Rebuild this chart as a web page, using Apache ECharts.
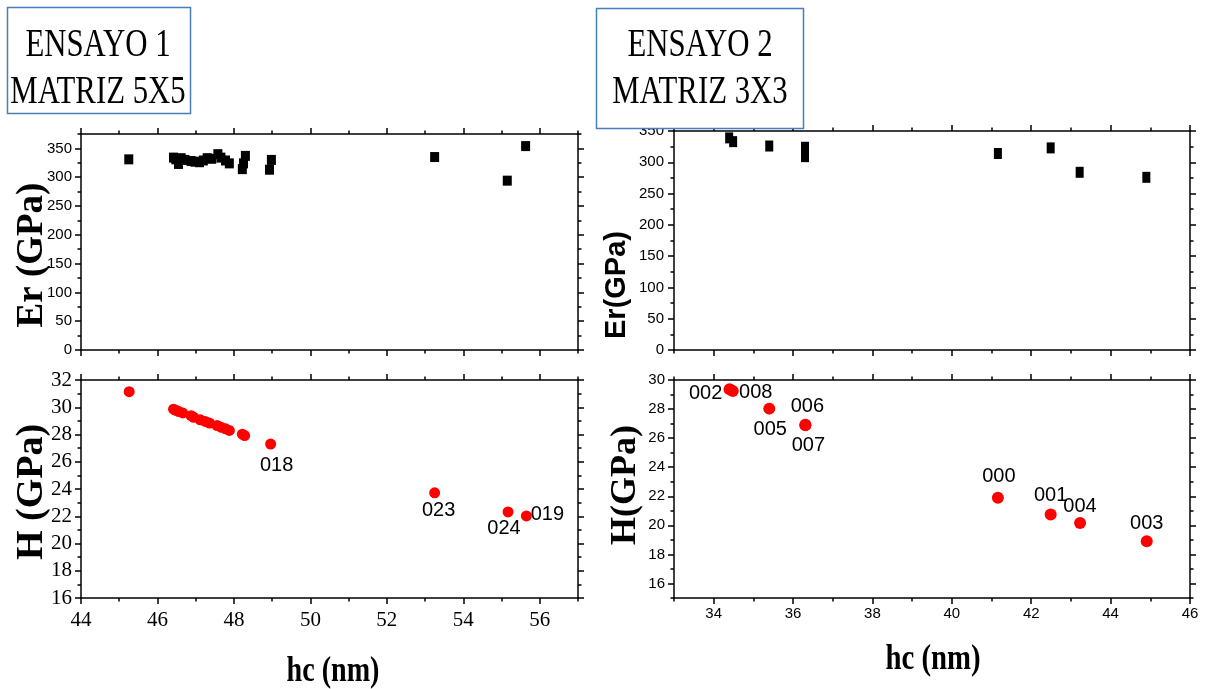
<!DOCTYPE html>
<html>
<head>
<meta charset="utf-8">
<script src="https://cdn.jsdelivr.net/npm/echarts@6/dist/echarts.min.js"></script>
<style>
html, body { margin: 0; padding: 0; background: #fff; }
#chart { width: 1207px; height: 689px; }
</style>
</head>
<body>
<div id="chart"></div>
<script>
// Ensayo 1 (matriz 5x5): módulo reducido Er frente a profundidad de contacto hc
const E1_ER_HC = [45.25, 46.42, 46.48, 46.55, 46.62, 46.72, 46.88, 46.98, 47.10, 47.20, 47.30, 47.42,
                  47.58, 47.66, 47.78, 47.88, 48.22, 48.25, 48.30, 48.93, 48.98, 53.25, 55.15, 55.63];
const E1_ER = [331, 334, 331, 323, 333, 330, 328, 327, 326, 329, 333, 332,
               340, 334, 329, 324, 314, 324, 337, 313, 330, 335, 294, 354];

// Ensayo 1: dureza H frente a hc, con la etiqueta de algunas huellas
const E1_H_HC = [45.26, 46.42, 46.48, 46.56, 46.66, 46.88, 46.95, 47.12, 47.25, 47.36,
                 47.56, 47.66, 47.78, 47.88, 48.22, 48.28, 48.96, 53.25, 55.17, 55.65];
const E1_H = [31.14, 29.86, 29.78, 29.68, 29.58, 29.38, 29.26, 29.08, 28.96, 28.84,
              28.66, 28.54, 28.42, 28.30, 28.02, 27.92, 27.30, 23.72, 22.32, 22.02];
const E1_H_TAGS = ['', '', '', '', '', '', '', '', '', '',
                   '', '', '', '', '', '', '018', '023', '024', '019'];

// Ensayo 2 (matriz 3x3)
const E2_ER_HC = [34.39, 34.49, 35.40, 36.30, 36.30, 41.16, 42.49, 43.22, 44.90];
const E2_ER = [339, 333, 326, 324, 309, 314, 323, 284, 276];
const E2_H_HC = [34.40, 34.48, 35.40, 36.31, 36.31, 41.16, 42.49, 43.23, 44.91];
const E2_H = [29.37, 29.25, 28.03, 26.92, 26.88, 21.90, 20.74, 20.16, 18.91];
const E2_H_TAGS = ['002', '008', '005', '006', '007', '000', '001', '004', '003'];

// Marcas principales de los ejes
const E1_HC_TICKS = [44, 46, 48, 50, 52, 54, 56];
const E1_ER_TICKS = [0, 50, 100, 150, 200, 250, 300, 350];
const E1_H_TICKS = [16, 18, 20, 22, 24, 26, 28, 30, 32];
const E2_HC_TICKS = [34, 36, 38, 40, 42, 44, 46];
const E2_ER_TICKS = [0, 50, 100, 150, 200, 250, 300, 350];
const E2_H_TICKS = [16, 18, 20, 22, 24, 26, 28, 30];

// Desplazamiento (px) del texto de cada huella respecto a su punto
const TAG_OFFSET = {
  '018': [6, 21], '023': [4, 18], '024': [-4, 17], '019': [21, -1],
  '002': [-24, 4], '008': [23, 2], '005': [1, 21], '006': [2, -18], '007': [3, 20],
  '000': [1, -21], '001': [0, -19], '004': [0, -17], '003': [0, -18]
};

const NARROW = "'Liberation Sans Narrow', 'Liberation Sans', Arial, sans-serif";
const SERIF = "'Liberation Serif', 'Times New Roman', serif";
const SANS = "'Liberation Sans', Arial, sans-serif";

const grids = [
  { left: 81, top: 134, width: 497, height: 216 },   // Er, ensayo 1
  { left: 81, top: 380, width: 497, height: 218 },   // H, ensayo 1
  { left: 674, top: 131, width: 516, height: 219 },  // Er, ensayo 2
  { left: 674, top: 380, width: 516, height: 218 }   // H, ensayo 2
];

const xAxes = [];
const yAxes = [];
const lineStyle = { color: '#000', width: 1.5 };

function minorTicks(major, min, max) {
  const step = major[1] - major[0];
  const out = [];
  if (major[0] - step / 2 >= min) out.push(major[0] - step / 2);
  for (let i = 0; i < major.length - 1; i++) out.push((major[i] + major[i + 1]) / 2);
  if (major[major.length - 1] + step / 2 <= max) out.push(major[major.length - 1] + step / 2);
  return out;
}

// Marco completo: eje principal con etiquetas, marcas menores y ejes espejo sin etiquetas
function frame(list, dim, gridIndex, min, max, major, label) {
  const sides = dim === 'x' ? ['bottom', 'top'] : ['left', 'right'];
  const minor = minorTicks(major, min, max);
  const mainIndex = list.length;
  sides.forEach((pos, k) => {
    const base = {
      type: 'value', gridIndex, position: pos, min, max,
      splitLine: { show: false }
    };
    list.push(Object.assign({}, base, {
      axisLine: { show: true, onZero: false, lineStyle },
      axisTick: { show: true, inside: false, length: 6, customValues: major, lineStyle },
      axisLabel: (k === 0 && label) ? Object.assign({ show: true, customValues: major, color: '#000' }, label)
                                    : { show: false }
    }));
    list.push(Object.assign({}, base, {
      axisLine: { show: false, onZero: false },
      axisTick: { show: true, inside: false, length: 3.5, customValues: minor, lineStyle },
      axisLabel: { show: false }
    }));
  });
  return mainIndex;
}

const ax = [];
// Ensayo 1, Er
ax.push({
  x: frame(xAxes, 'x', 0, 44, 57, E1_HC_TICKS, null),
  y: frame(yAxes, 'y', 0, 0, 375, E1_ER_TICKS, { fontFamily: NARROW, fontSize: 15, margin: 9 })
});
// Ensayo 1, H
ax.push({
  x: frame(xAxes, 'x', 1, 44, 57, E1_HC_TICKS, { fontFamily: SERIF, fontSize: 21, margin: 12 }),
  y: frame(yAxes, 'y', 1, 16, 32, E1_H_TICKS, { fontFamily: SERIF, fontSize: 21, margin: 9 })
});
// Ensayo 2, Er
ax.push({
  x: frame(xAxes, 'x', 2, 33, 46, E2_HC_TICKS, null),
  y: frame(yAxes, 'y', 2, 0, 350, E2_ER_TICKS, { fontFamily: NARROW, fontSize: 15, margin: 10 })
});
// Ensayo 2, H
ax.push({
  x: frame(xAxes, 'x', 3, 33, 46, E2_HC_TICKS, { fontFamily: NARROW, fontSize: 15, margin: 8 }),
  y: frame(yAxes, 'y', 3, 15, 30, E2_H_TICKS, { fontFamily: NARROW, fontSize: 15, margin: 9 })
});

function squares(hc, vals, panel, size) {
  return {
    type: 'scatter', xAxisIndex: ax[panel].x, yAxisIndex: ax[panel].y,
    symbol: 'rect', symbolSize: size,
    itemStyle: { color: '#000', opacity: 1 },
    emphasis: { disabled: true },
    data: hc.map((x, i) => [x, vals[i]]),
    z: 5
  };
}

function dots(hc, vals, tags, panel, size) {
  return {
    type: 'scatter', xAxisIndex: ax[panel].x, yAxisIndex: ax[panel].y,
    symbol: 'circle', symbolSize: size,
    itemStyle: { color: '#ff0000', opacity: 1 },
    emphasis: { disabled: true },
    data: hc.map((x, i) => {
      const tag = tags[i];
      return {
        value: [x, vals[i]],
        name: tag,
        label: tag ? {
          show: true, position: 'inside', offset: TAG_OFFSET[tag],
          formatter: '{b}', color: '#000', opacity: 1, textBorderWidth: 0,
          fontFamily: NARROW, fontSize: 20
        } : { show: false }
      };
    }),
    z: 5
  };
}

function text(str, x, y, font, size, weight, rot, sx) {
  return {
    type: 'text', x, y, rotation: rot || 0, scaleX: sx || 1, z: 110,
    style: {
      text: str, fill: '#000', font: `${weight || 'normal'} ${size}px ${font}`,
      textAlign: 'center', textVerticalAlign: 'middle'
    }
  };
}

const chart = echarts.init(document.getElementById('chart'), null, { renderer: 'canvas' });
chart.setOption({
  backgroundColor: '#fff',
  animation: false,
  grid: grids,
  xAxis: xAxes,
  yAxis: yAxes,
  series: [
    squares(E1_ER_HC, E1_ER, 0, [9, 10]),
    dots(E1_H_HC, E1_H, E1_H_TAGS, 1, 11),
    squares(E2_ER_HC, E2_ER, 2, [8, 11]),
    dots(E2_H_HC, E2_H, E2_H_TAGS, 3, 12)
  ],
  graphic: [
    { type: 'rect', z: 100, shape: { x: 7.5, y: 7.5, width: 183, height: 106 },
      style: { fill: '#fff', stroke: '#4a7ebb', lineWidth: 1.5 } },
    { type: 'rect', z: 100, shape: { x: 596.5, y: 8.5, width: 207, height: 120 },
      style: { fill: '#fff', stroke: '#4a7ebb', lineWidth: 1.5 } },
    text('ENSAYO 1', 98, 45, SERIF, 40, 'normal', 0, 0.77),
    text('MATRIZ 5X5', 98, 92, SERIF, 40, 'normal', 0, 0.77),
    text('ENSAYO 2', 700, 45, SERIF, 40, 'normal', 0, 0.77),
    text('MATRIZ 3X3', 700, 92, SERIF, 40, 'normal', 0, 0.77),
    text('Er (GPa)', 32, 255, SERIF, 37, 'bold', Math.PI / 2, 1),
    text('H (GPa)', 32, 492, SERIF, 38, 'bold', Math.PI / 2, 1),
    text('Er(GPa)', 617, 285, SANS, 29, 'bold', Math.PI / 2, 1),
    text('H(GPa)', 626, 485, SERIF, 36, 'bold', Math.PI / 2, 1),
    text('hc (nm)', 333, 672, SERIF, 36, 'bold', 0, 0.78),
    text('hc (nm)', 933, 660, SERIF, 36, 'bold', 0, 0.8)
  ]
});
</script>
</body>
</html>
